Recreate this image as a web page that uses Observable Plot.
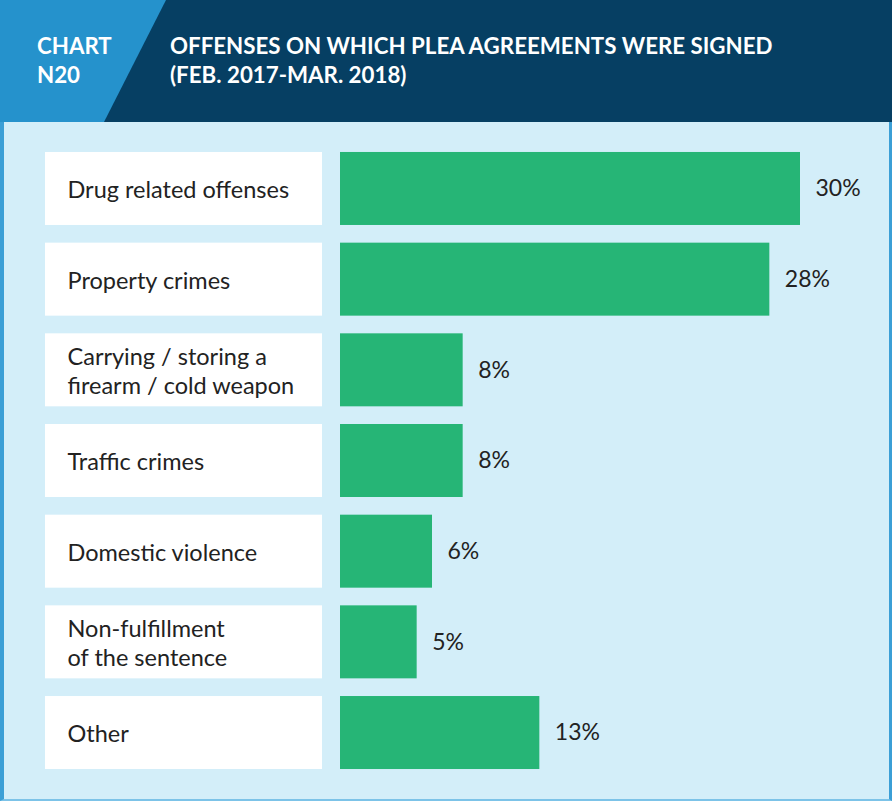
<!DOCTYPE html>
<html>
<head>
<meta charset="utf-8">
<script src="https://cdn.jsdelivr.net/npm/d3@7"></script>
<script src="https://cdn.jsdelivr.net/npm/@observablehq/plot@0.6"></script>
<style>
  html, body { margin: 0; padding: 0; background: #ffffff; }
  #wrap { position: relative; width: 892px; height: 801px; overflow: hidden; font-family: Lato, "Noto Sans", sans-serif; }
  #header { position: absolute; left: 0; top: 0; width: 892px; height: 122px; background: #063f63; }
  #tag { position: absolute; left: 0; top: 0; width: 892px; height: 122px; background: #2592cc;
         clip-path: polygon(0 0, 166px 0, 104px 122px, 0 122px); }
  .htext { position: absolute; color: #ffffff; font-weight: 700; font-size: 22.3px; line-height: 29px; letter-spacing: 0px; }
  #chartno { left: 37px; top: 31px; }
  #title { left: 170px; top: 31px; }
  #body { position: absolute; left: 0; top: 122px; width: 892px; height: 679px; background: #d3eef9;
          box-sizing: border-box; border-left: 4px solid #3b9fd6; border-right: 3px solid #3b9fd6; border-bottom: 2px solid #7cc3e8; }
  #labels { position: absolute; left: 45px; top: 122px; }
  #bars { position: absolute; left: 340px; top: 122px; }
</style>
</head>
<body>
<div id="wrap">
  <div id="header"></div>
  <div id="tag"></div>
  <div class="htext" id="chartno">CHART<br>N20</div>
  <div class="htext" id="title">OFFENSES ON WHICH PLEA AGREEMENTS WERE SIGNED<br>(FEB. 2017-MAR. 2018)</div>
  <div id="body"></div>
  <div id="labels"></div>
  <div id="bars"></div>
</div>
<script>
const categories = [
  "Drug related offenses",
  "Property crimes",
  "Carrying / storing a\nfirearm / cold weapon",
  "Traffic crimes",
  "Domestic violence",
  "Non-fulfillment\nof the sentence",
  "Other"
];
const values = [30, 28, 8, 8, 6, 5, 13];

const data = categories.map((c, i) => ({cat: c, value: values[i]}));

const H = 679;
const common = {
  height: H,
  marginTop: 12.3,
  marginBottom: 14.3,
  marginLeft: 0,
  marginRight: 0,
  style: {background: "transparent", fontFamily: "Lato, 'Noto Sans', sans-serif"}
};

const left = Plot.plot({
  ...common,
  width: 277,
  x: {axis: null},
  y: {domain: categories, axis: null, padding: 0.195, round: false},
  marks: [
    Plot.cell(data, {y: "cat", fill: "#ffffff"}),
    Plot.text(data, {y: "cat", text: "cat", frameAnchor: "left", dx: 22, fontSize: 23.5, fill: "#222222", lineHeight: 1.25})
  ]
});
document.getElementById("labels").appendChild(left);

const right = Plot.plot({
  ...common,
  width: 552,
  x: {domain: [0, 36], axis: null},
  y: {domain: categories, axis: null, padding: 0.195, round: false},
  marks: [
    Plot.barX(data, {x: "value", y: "cat", fill: "#26b576"}),
    Plot.text(data, {x: "value", y: "cat", text: d => d.value + "%", textAnchor: "start", dx: 15, fontSize: 23, fill: "#222222"})
  ]
});
document.getElementById("bars").appendChild(right);
</script>
</body>
</html>
